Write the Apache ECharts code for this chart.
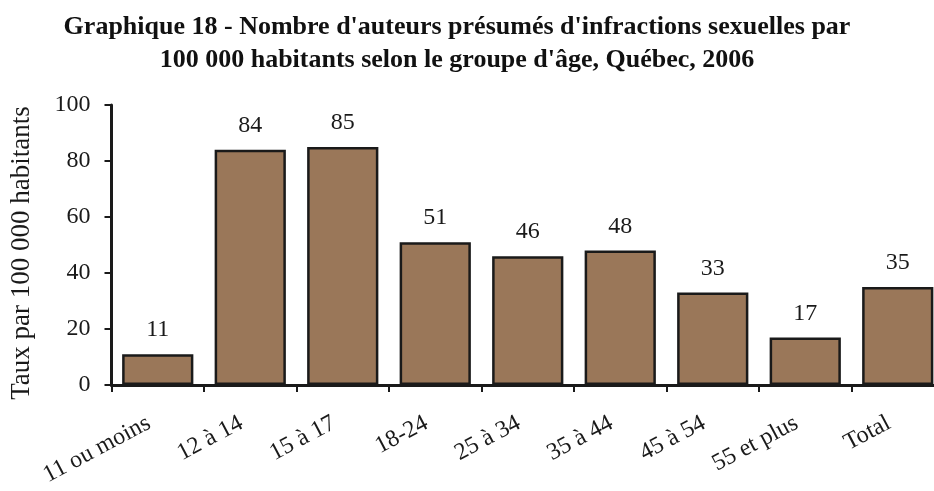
<!DOCTYPE html>
<html>
<head>
<meta charset="utf-8">
<script src="https://cdn.jsdelivr.net/npm/echarts@6/dist/echarts.min.js"></script>
<style>
  html, body { margin: 0; padding: 0; background: #fff; }
  #chart { width: 934px; height: 491px; }
</style>
</head>
<body>
<div id="chart"></div>
<script>
var categories = ['11 ou moins', '12 à 14', '15 à 17', '18-24', '25 à 34', '35 à 44', '45 à 54', '55 et plus', 'Total'];
var taux = [11, 84, 85, 51, 46, 48, 33, 17, 35];

var font = "'Liberation Serif', 'DejaVu Serif', serif";
var chart = echarts.init(document.getElementById('chart'));

// l'axe horizontal déborde un peu à droite de l'image, comme dans l'original
var option = {
  backgroundColor: '#fff',
  animation: false,
  title: {
    text: "Graphique 18 - Nombre d'auteurs présumés d'infractions sexuelles par\n100 000 habitants selon le groupe d'âge, Québec, 2006",
    left: 452,
    textAlign: 'center',
    top: 6,
    textStyle: {
      fontFamily: font,
      fontSize: 26,
      fontWeight: 'bold',
      color: '#111',
      lineHeight: 33
    }
  },
  grid: { left: 111.5, width: 832.5, top: 105, bottom: 106, outerBoundsMode: 'none', containLabel: false },
  xAxis: {
    type: 'category',
    data: categories,
    axisLine: { lineStyle: { color: '#1a1a1a', width: 3 } },
    axisTick: { show: true, length: 7, lineStyle: { color: '#1a1a1a', width: 2 } },
    axisLabel: {
      rotate: 28,
      interval: 0,
      margin: 32,
      padding: [0, 10, 0, 0],
      fontFamily: font,
      fontSize: 24,
      color: '#1a1a1a'
    }
  },
  yAxis: {
    type: 'value',
    min: 0,
    max: 100,
    interval: 20,
    name: 'Taux par 100 000 habitants',
    nameLocation: 'middle',
    nameGap: 76,
    nameTextStyle: { fontFamily: font, fontSize: 27, color: '#1a1a1a', padding: [0, 16, 0, 0] },
    axisLine: { show: true, lineStyle: { color: '#1a1a1a', width: 3 } },
    axisTick: { show: true, length: 7, lineStyle: { color: '#1a1a1a', width: 2 } },
    splitLine: { show: false },
    axisLabel: { margin: 21, fontFamily: font, fontSize: 24, color: '#1a1a1a' }
  },
  series: [{
    type: 'bar',
    data: taux,
    barWidth: '77%',
    itemStyle: { color: '#9a7759', borderColor: '#1a1a1a', borderWidth: 2.5 },
    label: {
      show: true,
      position: 'top',
      distance: 12,
      fontFamily: font,
      fontSize: 24,
      color: '#1a1a1a'
    }
  }]
};
chart.setOption(option);
</script>
</body>
</html>
